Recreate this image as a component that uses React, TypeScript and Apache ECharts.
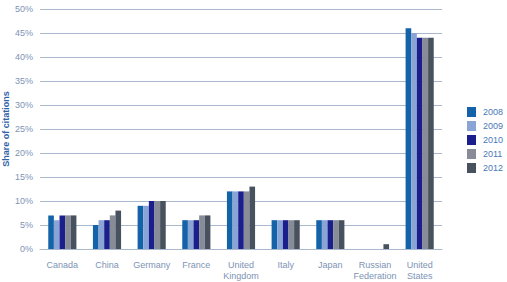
import React, { useEffect, useRef } from "react";
import * as echarts from "echarts";

const categories = ["Canada", "China", "Germany", "France", "United\nKingdom", "Italy", "Japan", "Russian\nFederation", "United\nStates"];
const years = ["2008", "2009", "2010", "2011", "2012"];
const v2008 = [7, 5, 9, 6, 12, 6, 6, 0, 46];
const v2009 = [6, 6, 9, 6, 12, 6, 6, 0, 45];
const v2010 = [7, 6, 10, 6, 12, 6, 6, 0, 44];
const v2011 = [7, 7, 10, 7, 12, 6, 6, 0, 44];
const v2012 = [7, 8, 10, 7, 13, 6, 6, 1, 44];
const yTicks = [0, 5, 10, 15, 20, 25, 30, 35, 40, 45, 50];
const colors = ["#1463a8", "#8aa4d6", "#1a1f8c", "#878c96", "#47525e"];

export default function App() {
  const ref = useRef<HTMLDivElement>(null);
  useEffect(() => {
    if (!ref.current) return;
    const chart = echarts.init(ref.current, null, { renderer: "svg" });
    const data = [v2008, v2009, v2010, v2011, v2012];
    const labelColor = "#7d93b5";
    chart.setOption({
      animation: false,
      color: colors,
      textStyle: { fontFamily: "Liberation Sans, Arial, sans-serif" },
      grid: { left: 40, right: 65, top: 9, bottom: 33, containLabel: false, outerBoundsMode: "none" },
      legend: {
        orient: "vertical",
        left: 462,
        top: 102,
        itemWidth: 9,
        itemHeight: 10,
        itemGap: 4,
        icon: "rect",
        data: years,
        textStyle: { fontSize: 9, color: "#4a78b8", padding: [0, 0, 0, 2] },
      },
      xAxis: {
        type: "category",
        data: categories,
        axisLine: { show: true, lineStyle: { color: "#a9b8cc", width: 1 } },
        axisTick: { show: false },
        axisLabel: { color: labelColor, fontSize: 9, margin: 10, lineHeight: 11, interval: 0 },
      },
      yAxis: {
        type: "value",
        min: yTicks[0],
        max: yTicks[yTicks.length - 1],
        interval: 5,
        name: "Share of citations",
        nameLocation: "middle",
        nameGap: 30,
        nameMoveOverlap: false,
        nameTextStyle: { color: "#2f62a8", fontSize: 9, fontWeight: "bold" },
        axisLine: { show: false },
        axisTick: { show: false },
        axisLabel: { color: labelColor, fontSize: 9, margin: 7, formatter: (v: number) => v + "%" },
        splitLine: { lineStyle: { color: "#a9b8cc", width: 1 } },
      },
      series: years.map((y, i) => ({
        name: y,
        type: "bar",
        data: data[i],
        barGap: "0%",
        barCategoryGap: "37%",
        itemStyle: { color: colors[i] },
      })),
    });
    return () => chart.dispose();
  }, []);
  return <div ref={ref} style={{ width: 507, height: 282, position: "absolute", left: 0, top: 0 }} />;
}
